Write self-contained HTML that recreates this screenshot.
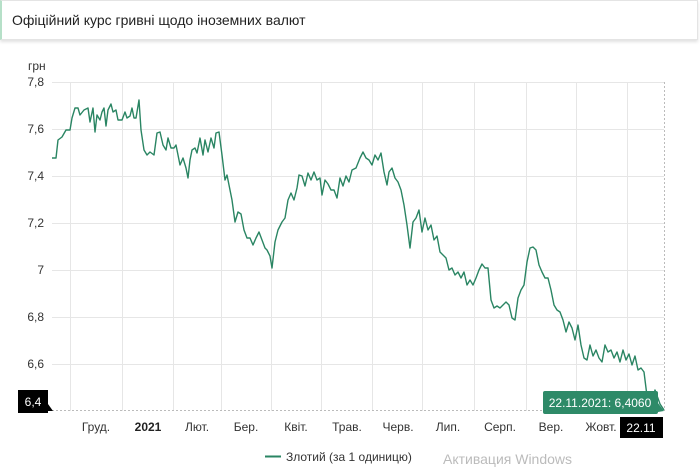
<!DOCTYPE html>
<html><head><meta charset="utf-8"><style>
body{margin:0;width:700px;height:469px;background:#fff;font-family:"Liberation Sans",sans-serif;overflow:hidden;position:relative}
.hdr{position:absolute;left:0;top:0;width:698px;height:40px;border:1px solid #e4e4e4;border-left:2px solid #b6e0c8;box-shadow:0 2px 3px rgba(0,0,0,.12);box-sizing:border-box}
.hdr span{position:absolute;left:10px;top:11px;font-size:14px;color:#222}
</style></head><body>
<div class="hdr"><span>Офіційний курс гривні щодо іноземних валют</span></div>
<svg width="700" height="469" style="position:absolute;left:0;top:0" font-family="Liberation Sans, sans-serif">
<g stroke="#e6e6e6" stroke-width="1">
<line x1="52" x2="664" y1="82.5" y2="82.5"/><line x1="52" x2="664" y1="129.5" y2="129.5"/><line x1="52" x2="664" y1="176.5" y2="176.5"/><line x1="52" x2="664" y1="223.5" y2="223.5"/><line x1="52" x2="664" y1="270.5" y2="270.5"/><line x1="52" x2="664" y1="317.5" y2="317.5"/><line x1="52" x2="664" y1="364.5" y2="364.5"/>
<line x1="70.5" x2="70.5" y1="82" y2="411"/><line x1="122.5" x2="122.5" y1="82" y2="411"/><line x1="173.5" x2="173.5" y1="82" y2="411"/><line x1="221.5" x2="221.5" y1="82" y2="411"/><line x1="271.5" x2="271.5" y1="82" y2="411"/><line x1="321.5" x2="321.5" y1="82" y2="411"/><line x1="372.5" x2="372.5" y1="82" y2="411"/><line x1="422.5" x2="422.5" y1="82" y2="411"/><line x1="474.5" x2="474.5" y1="82" y2="411"/><line x1="526.5" x2="526.5" y1="82" y2="411"/><line x1="576.5" x2="576.5" y1="82" y2="411"/><line x1="627.5" x2="627.5" y1="82" y2="411"/>
</g>
<line x1="664.5" x2="664.5" y1="82" y2="411" stroke="#bbb" stroke-dasharray="2,2"/>
<line x1="52" x2="664" y1="410.5" y2="410.5" stroke="#bbb" stroke-dasharray="2,2"/>
<text x="28" y="70" font-size="12" fill="#333">грн</text>
<g font-size="12" fill="#333" text-anchor="end">
<text x="44" y="86">7,8</text><text x="44" y="133">7,6</text><text x="44" y="180">7,4</text><text x="44" y="227">7,2</text><text x="44" y="274">7</text><text x="44" y="321">6,8</text><text x="44" y="368">6,6</text>
</g>
<polyline fill="none" stroke="#2a8563" stroke-width="1.4" stroke-linejoin="round" points="52,158 56,158 58,140 62,137 66,130 70,130 72,118 75,108 78,108 80,115 84,110 88,108 90,122 93,108 95,132 97,115 100,120 102,112 104,108 106,126 108,110 111,104 113,112 116,110 118,120 122,120 125,112 127,118 130,116 132,108 134,118 136,118 139,100 141,130 144,150 147,155 150,152 154,155 157,133 160,132 163,145 166,150 168,138 171,148 174,148 176,145 178,155 180,165 183,158 186,168 188,178 190,160 192,150 195,148 197,153 200,138 203,155 205,140 208,152 211,138 214,148 216,133 219,132 222,155 225,180 227,175 230,190 232,200 235,222 238,212 241,214 244,230 247,238 250,238 253,245 256,238 259,232 262,240 265,248 267,250 270,256 272,268 275,242 278,230 282,222 285,218 288,200 291,193 294,200 297,188 299,175 302,176 305,186 308,173 311,180 314,172 317,180 320,178 322,195 325,180 328,184 331,190 334,190 337,198 340,178 343,186 346,176 349,182 352,170 356,168 360,158 363,152 366,158 369,160 372,165 375,155 378,160 381,153 384,172 387,185 389,172 392,168 395,178 398,182 401,190 404,205 407,225 410,248 413,222 416,218 419,210 422,232 425,218 428,230 431,225 434,240 437,236 440,252 443,255 446,258 449,270 452,268 455,275 458,272 461,278 464,272 467,285 470,280 473,285 476,278 479,270 482,264 485,268 488,268 491,300 494,308 497,306 500,308 503,305 506,302 509,305 512,318 515,320 518,298 521,290 524,285 527,262 530,248 533,247 536,250 539,265 542,272 545,278 548,278 551,290 554,305 557,310 560,312 563,320 566,332 569,322 572,328 575,340 578,325 581,345 584,358 587,360 590,345 593,356 596,350 599,358 602,362 605,345 608,352 611,350 614,358 617,352 620,362 623,350 626,360 629,354 632,365 635,356 638,370 641,368 644,372 647,396 650,410 655,390 660,404 664,410"/>
<g font-size="12" fill="#333" text-anchor="middle">
<text x="96" y="431">Груд.</text><text x="148" y="431" font-weight="bold" fill="#222">2021</text><text x="197" y="431">Лют.</text><text x="246" y="431">Бер.</text><text x="296" y="431">Квіт.</text><text x="347" y="431">Трав.</text><text x="398" y="431">Черв.</text><text x="448" y="431">Лип.</text><text x="500" y="431">Серп.</text><text x="551" y="431">Вер.</text><text x="601" y="431">Жовт.</text>
</g>
<rect x="18" y="390" width="30" height="23" fill="#000"/><polygon points="48,404 53,411 48,411" fill="#000"/>
<text x="33" y="406" font-size="12" fill="#fff" text-anchor="middle">6,4</text>
<rect x="620" y="417" width="43" height="21" fill="#000"/>
<text x="641" y="432" font-size="12" fill="#fff" text-anchor="middle">22.11</text>
<rect x="543" y="391" width="115" height="23" rx="2" fill="#2e8a68"/>
<polygon points="658,403 664,411 658,412" fill="#2e8a68"/>
<text x="600" y="407" font-size="12" fill="#fff" text-anchor="middle">22.11.2021: 6,4060</text>
<line x1="265" x2="281" y1="456.5" y2="456.5" stroke="#2a8563" stroke-width="2"/>
<text x="286" y="461" font-size="12" fill="#333">Злотий (за 1 одиницю)</text>
<text x="443" y="464" font-size="14" fill="#bbb">Активация Windows</text>
</svg>
</body></html>
